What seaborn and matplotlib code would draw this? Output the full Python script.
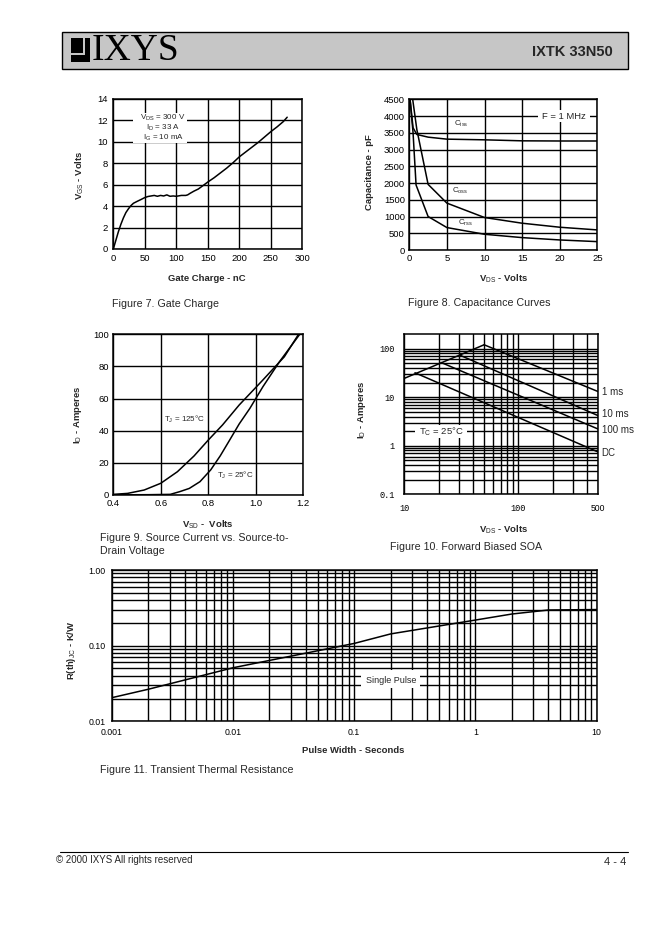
import matplotlib
matplotlib.use("Agg")
import matplotlib.pyplot as plt
import seaborn as sns
import pandas as pd
from matplotlib.patches import Rectangle
from matplotlib.ticker import FixedLocator, NullFormatter

# ---------------- data ----------------
# Figure 7: gate charge
gate_q = [0, 4, 8, 12, 16, 20, 24, 28, 32, 38, 44, 50, 55, 60, 65, 70, 75, 80, 85, 90,
          95, 100, 108, 115, 118, 122, 128, 135, 142, 150, 160, 170, 180, 190, 200,
          210, 220, 230, 240, 250, 260, 270, 276]
gate_v = [0, 0.8, 1.6, 2.3, 2.9, 3.4, 3.75, 4.05, 4.27, 4.45, 4.62, 4.8, 4.9, 4.95, 5.0,
          4.92, 5.0, 4.95, 5.05, 4.92, 4.95, 4.92, 5.0, 5.0, 5.05, 5.2, 5.4, 5.6, 5.9,
          6.25, 6.65, 7.1, 7.55, 8.05, 8.6, 9.05, 9.5, 9.95, 10.45, 10.95, 11.4, 11.9, 12.3]

# Figure 8: capacitance curves
vds_ciss = [0.1, 0.5, 1.0, 2.5, 5, 10, 15, 20, 25]
ciss = [4500, 3650, 3450, 3370, 3310, 3290, 3260, 3255, 3255]
vds_coss = [0.45, 1.0, 2.5, 5, 10, 15, 20, 25]
coss = [4500, 3600, 1960, 1400, 970, 800, 680, 600]
vds_crss = [0.1, 0.5, 0.9, 2.5, 5, 10, 15, 20, 25]
crss = [4500, 3500, 1940, 1000, 670, 470, 370, 300, 250]

# Figure 9: source current vs source-drain voltage
vsd_125 = [0.40, 0.46, 0.53, 0.60, 0.67, 0.74, 0.80, 0.86, 0.93, 1.03, 1.12, 1.18]
id_125 = [0.4, 1.0, 3.1, 7.3, 14.5, 24.3, 34.2, 43.6, 56.0, 71.6, 86.0, 100.0]
vsd_25 = [0.40, 0.55, 0.64, 0.68, 0.72, 0.765, 0.81, 0.85, 0.89, 0.93, 0.975, 1.03, 1.10, 1.185]
id_25 = [0.1, 0.2, 0.4, 2.1, 4.1, 8.3, 15.6, 24.3, 34.2, 44.2, 53.9, 67.4, 83.0, 100.0]

# Figure 10: forward biased SOA
rds_v = [10, 50]
rds_i = [24.4, 120]
soa_1ms_v = [50, 500]
soa_1ms_i = [120, 13.0]
soa_10ms_v = [30.8, 500]
soa_10ms_i = [73, 4.15]
soa_100ms_v = [21, 500]
soa_100ms_i = [51.8, 2.2]
soa_dc_v = [12.4, 500]
soa_dc_i = [31.8, 0.74]

# Figure 11: transient thermal resistance
pulse_t = [0.001, 0.002, 0.01, 0.1, 0.2, 1, 2, 4, 10]
rth = [0.0205, 0.0265, 0.051, 0.107, 0.143, 0.218, 0.262, 0.296, 0.30]

# tick labels
t7x = [0, 50, 100, 150, 200, 250, 300]
t7y = [0, 2, 4, 6, 8, 10, 12, 14]
t8x = [0, 5, 10, 15, 20, 25]
t8y = [0, 500, 1000, 1500, 2000, 2500, 3000, 3500, 4000, 4500]
t9x = [0.4, 0.6, 0.8, 1.0, 1.2]
t9y = [0, 20, 40, 60, 80, 100]
t10x = [10, 100, 500]
t10x_lab = ["10", "100", "500"]
t10y = [0.1, 1, 10, 100]
t10y_lab = ["0.1", "1", "10", "100"]
t11x = [0.001, 0.01, 0.1, 1, 10]
t11x_lab = ["0.001", "0.01", "0.1", "1", "10"]
t11y = [0.01, 0.1, 1.0]
t11y_lab = ["0.01", "0.10", "1.00"]

# ---------------- style ----------------
sns.set_theme(style="white")
plt.rcParams['font.family'] = ['Liberation Sans', 'DejaVu Sans']
plt.rcParams['mathtext.fontset'] = 'custom'
plt.rcParams['mathtext.rm'] = 'Liberation Sans'
plt.rcParams['mathtext.it'] = 'Liberation Sans:italic'
plt.rcParams['mathtext.bf'] = 'Liberation Sans:bold'

W, H = 662, 936
fig = plt.figure(figsize=(W / 100, H / 100), dpi=100)
fig.patch.set_facecolor('white')


def add_ax(x0, y0, x1, y1):
    return fig.add_axes([x0 / W, 1 - y1 / H, (x1 - x0) / W, (y1 - y0) / H])


def fx(x):
    return x / W


def fy(y):
    return 1 - y / H


def style(ax, size=6.8, pad=3.5):
    for s in ax.spines.values():
        s.set_color('black')
        s.set_linewidth(1.1)
    ax.tick_params(which='both', length=0, labelsize=size, colors='black', pad=pad)
    ax.grid(True, which='both', color='black', linewidth=1.0)
    ax.set_axisbelow(True)


def line(ax, x, y):
    sns.lineplot(x=x, y=y, ax=ax, color='black', linewidth=1.1,
                 estimator=None, sort=False, legend=False)


LBL = dict(fontsize=6.8, fontweight='bold', va='center')
CAP = dict(fontsize=7.7, ha='left', va='center')

# ---------------- header ----------------
fig.patches.append(Rectangle((fx(62), fy(69)), (628 - 62) / W, (69 - 31.7) / H,
                             transform=fig.transFigure, facecolor='#c6c6c6',
                             edgecolor='black', linewidth=1.0))
fig.patches.append(Rectangle((fx(71), fy(62.3)), 19 / W, 24 / H, transform=fig.transFigure,
                             facecolor='black', edgecolor='none'))
fig.patches.append(Rectangle((fx(83), fy(55)), 2.2 / W, 17 / H, transform=fig.transFigure,
                             facecolor='#c6c6c6', edgecolor='none'))
fig.patches.append(Rectangle((fx(71), fy(55)), 14 / W, 2.2 / H, transform=fig.transFigure,
                             facecolor='#c6c6c6', edgecolor='none'))
fig.text(fx(92), fy(50.5), "IXYS", family='Liberation Serif', fontsize=27,
         ha='left', va='center', color='black')
fig.text(fx(613), fy(51.5), "IXTK 33N50", fontsize=10.5, fontweight='bold',
         ha='right', va='center')

# ---------------- Figure 7 ----------------
ax7 = add_ax(113.3, 99, 302.3, 249)
style(ax7, pad=3.8)
line(ax7, gate_q, gate_v)
ax7.set_xlim(0, 300)
ax7.set_ylim(0, 14)
ax7.set_xticks(t7x)
ax7.set_yticks(t7y)
ax7.add_patch(Rectangle((31, 9.9), 86, 2.8, facecolor='white', edgecolor='none', zorder=1))
for yy, s in [(12.2, r'V$_{\rm DS}$ = 300 V'), (11.27, r'I$_{\rm D}$ = 33 A'),
              (10.35, r'I$_{\rm G}$ = 10 mA')]:
    ax7.text(79, yy, s, fontsize=5.8, ha='center', va='center', zorder=3)
ax7.set_ylabel(r'V$_{\rm GS}$ - Volts', **LBL)
ax7.set_xlabel('Gate Charge - nC', **LBL)
ax7.yaxis.set_label_coords(-0.176, 0.493)
ax7.xaxis.set_label_coords(0.494, -0.195)
fig.text(fx(112), fy(304), "Figure 7. Gate Charge", **CAP)

# ---------------- Figure 8 ----------------
ax8 = add_ax(409.3, 99.3, 597.3, 250)
style(ax8, pad=3.2)
line(ax8, vds_ciss, ciss)
line(ax8, vds_coss, coss)
line(ax8, vds_crss, crss)
ax8.set_xlim(0, 25)
ax8.set_ylim(0, 4500)
ax8.set_xticks(t8x)
ax8.set_yticks(t8y)
ax8.add_patch(Rectangle((17.1, 3820), 6.9, 360, facecolor='white', edgecolor='none', zorder=1))
ax8.text(20.6, 4000, 'F = 1 MHz', fontsize=6.8, ha='center', va='center', zorder=3)
ax8.text(6.97, 3762, r'C$_{\rm iss}$', fontsize=5.8, ha='center', va='center')
ax8.text(6.74, 1762, r'C$_{\rm oss}$', fontsize=5.8, ha='center', va='center')
ax8.text(7.54, 815, r'C$_{\rm rss}$', fontsize=5.8, ha='center', va='center')
ax8.set_ylabel('Capacitance - pF', **LBL)
ax8.set_xlabel(r'V$_{\rm DS}$ - Volts', **LBL)
ax8.yaxis.set_label_coords(-0.213, 0.52)
ax8.xaxis.set_label_coords(0.5, -0.194)
fig.text(fx(408), fy(303.3), "Figure 8. Capacitance Curves", **CAP)

# ---------------- Figure 9 ----------------
ax9 = add_ax(113.3, 334.3, 303.3, 495)
style(ax9, pad=3.2)
line(ax9, vsd_125, id_125)
line(ax9, vsd_25, id_25)
ax9.set_xlim(0.4, 1.2)
ax9.set_ylim(0, 100)
ax9.set_xticks(t9x)
ax9.set_xticklabels([f"{v:.1f}" for v in t9x])
ax9.set_yticks(t9y)
ax9.text(0.698, 47.1, r'T$_{\rm J}$ = 125°C', fontsize=5.8, ha='center', va='center')
ax9.text(0.915, 12.0, r'T$_{\rm J}$ = 25°C', fontsize=5.8, ha='center', va='center')
ax9.set_ylabel(r'I$_{\rm D}$ - Amperes', **LBL)
ax9.set_xlabel(r'V$_{\rm SD}$ -  Volts', **LBL)
ax9.yaxis.set_label_coords(-0.184, 0.498)
ax9.xaxis.set_label_coords(0.5, -0.187)
fig.text(fx(100), fy(537.7), "Figure 9. Source Current vs. Source-to-", **CAP)
fig.text(fx(100), fy(551), "Drain Voltage", **CAP)

# ---------------- Figure 10 ----------------
ax10 = add_ax(404.3, 334, 598.3, 494.3)
ax10.set_xscale('log')
ax10.set_yscale('log')
style(ax10, size=6.2, pad=7)
line(ax10, rds_v, rds_i)
line(ax10, soa_1ms_v, soa_1ms_i)
line(ax10, soa_10ms_v, soa_10ms_i)
line(ax10, soa_100ms_v, soa_100ms_i)
line(ax10, soa_dc_v, soa_dc_i)
ax10.set_xlim(10, 500)
ax10.set_ylim(0.1, 200)
ax10.xaxis.set_major_locator(FixedLocator(t10x))
ax10.xaxis.set_minor_locator(FixedLocator([20, 30, 40, 50, 60, 70, 80, 90, 200, 300, 400]))
ax10.yaxis.set_major_locator(FixedLocator(t10y))
ax10.yaxis.set_minor_locator(FixedLocator([0.2, 0.3, 0.4, 0.5, 0.6, 0.7, 0.8, 0.9,
                                           2, 3, 4, 5, 6, 7, 8, 9,
                                           20, 30, 40, 50, 60, 70, 80, 90]))
ax10.xaxis.set_minor_formatter(NullFormatter())
ax10.yaxis.set_minor_formatter(NullFormatter())
ax10.set_xticklabels(t10x_lab)
ax10.set_yticklabels(t10y_lab)
for t in ax10.get_yticklabels():
    t.set_fontfamily('Liberation Mono')
for t in ax10.get_xticklabels()[:2]:
    t.set_fontfamily('Liberation Mono')
ax10.add_patch(Rectangle((12.4, 1.41), 23.1, 1.31, facecolor='white', edgecolor='none', zorder=1))
ax10.text(21.0, 1.95, r'T$_{\rm C}$ = 25°C', fontsize=6.8, ha='center', va='center', zorder=3)
for yy, s in [(392.3, '1 ms'), (414.3, '10 ms'), (430.5, '100 ms'), (453.3, 'DC')]:
    fig.text(fx(601.5), fy(yy), s, fontsize=7, ha='left', va='center')
ax10.set_ylabel(r'I$_{\rm D}$ - Amperes', **LBL)
ax10.set_xlabel(r'V$_{\rm DS}$ - Volts', **LBL)
ax10.yaxis.set_label_coords(-0.22, 0.526)
ax10.xaxis.set_label_coords(0.514, -0.223)
fig.text(fx(390), fy(546.7), "Figure 10. Forward Biased SOA", **CAP)

# ---------------- Figure 11 ----------------
ax11 = add_ax(111.7, 570, 596.7, 721.3)
ax11.set_xscale('log')
ax11.set_yscale('log')
style(ax11, size=6.3, pad=4.5)
line(ax11, pulse_t, rth)
ax11.set_xlim(0.001, 10)
ax11.set_ylim(0.01, 1.0)
xm = [m * d for d in [0.001, 0.01, 0.1, 1] for m in range(2, 10)]
ym = [m * d for d in [0.01, 0.1] for m in range(2, 10)]
ax11.xaxis.set_major_locator(FixedLocator(t11x))
ax11.xaxis.set_minor_locator(FixedLocator(xm))
ax11.yaxis.set_major_locator(FixedLocator(t11y))
ax11.yaxis.set_minor_locator(FixedLocator(ym))
ax11.xaxis.set_minor_formatter(NullFormatter())
ax11.yaxis.set_minor_formatter(NullFormatter())
ax11.set_xticklabels(t11x_lab)
ax11.set_yticklabels(t11y_lab)
ax11.add_patch(Rectangle((0.113, 0.0273), 0.236, 0.0204, facecolor='white', edgecolor='none', zorder=1))
ax11.text(0.2, 0.035, 'Single Pulse', fontsize=6.5, ha='center', va='center', zorder=3)
ax11.set_ylabel(r'R(th)$_{\rm JC}$ - K/W', **LBL)
ax11.set_xlabel('Pulse Width - Seconds', **LBL)
ax11.yaxis.set_label_coords(-0.0825, 0.471)
ax11.xaxis.set_label_coords(0.498, -0.19)
fig.text(fx(100), fy(770), "Figure 11. Transient Thermal Resistance", **CAP)

# ---------------- footer ----------------
fig.add_artist(plt.Line2D([fx(60), fx(628)], [fy(851.5), fy(851.5)],
                          transform=fig.transFigure, color='black', linewidth=0.8))
fig.text(fx(56), fy(860), "© 2000 IXYS All rights reserved", fontsize=7, ha='left', va='center')
fig.text(fx(626), fy(862), "4 - 4", fontsize=8, ha='right', va='center')

fig.savefig('out.png', dpi=100, facecolor='white')
